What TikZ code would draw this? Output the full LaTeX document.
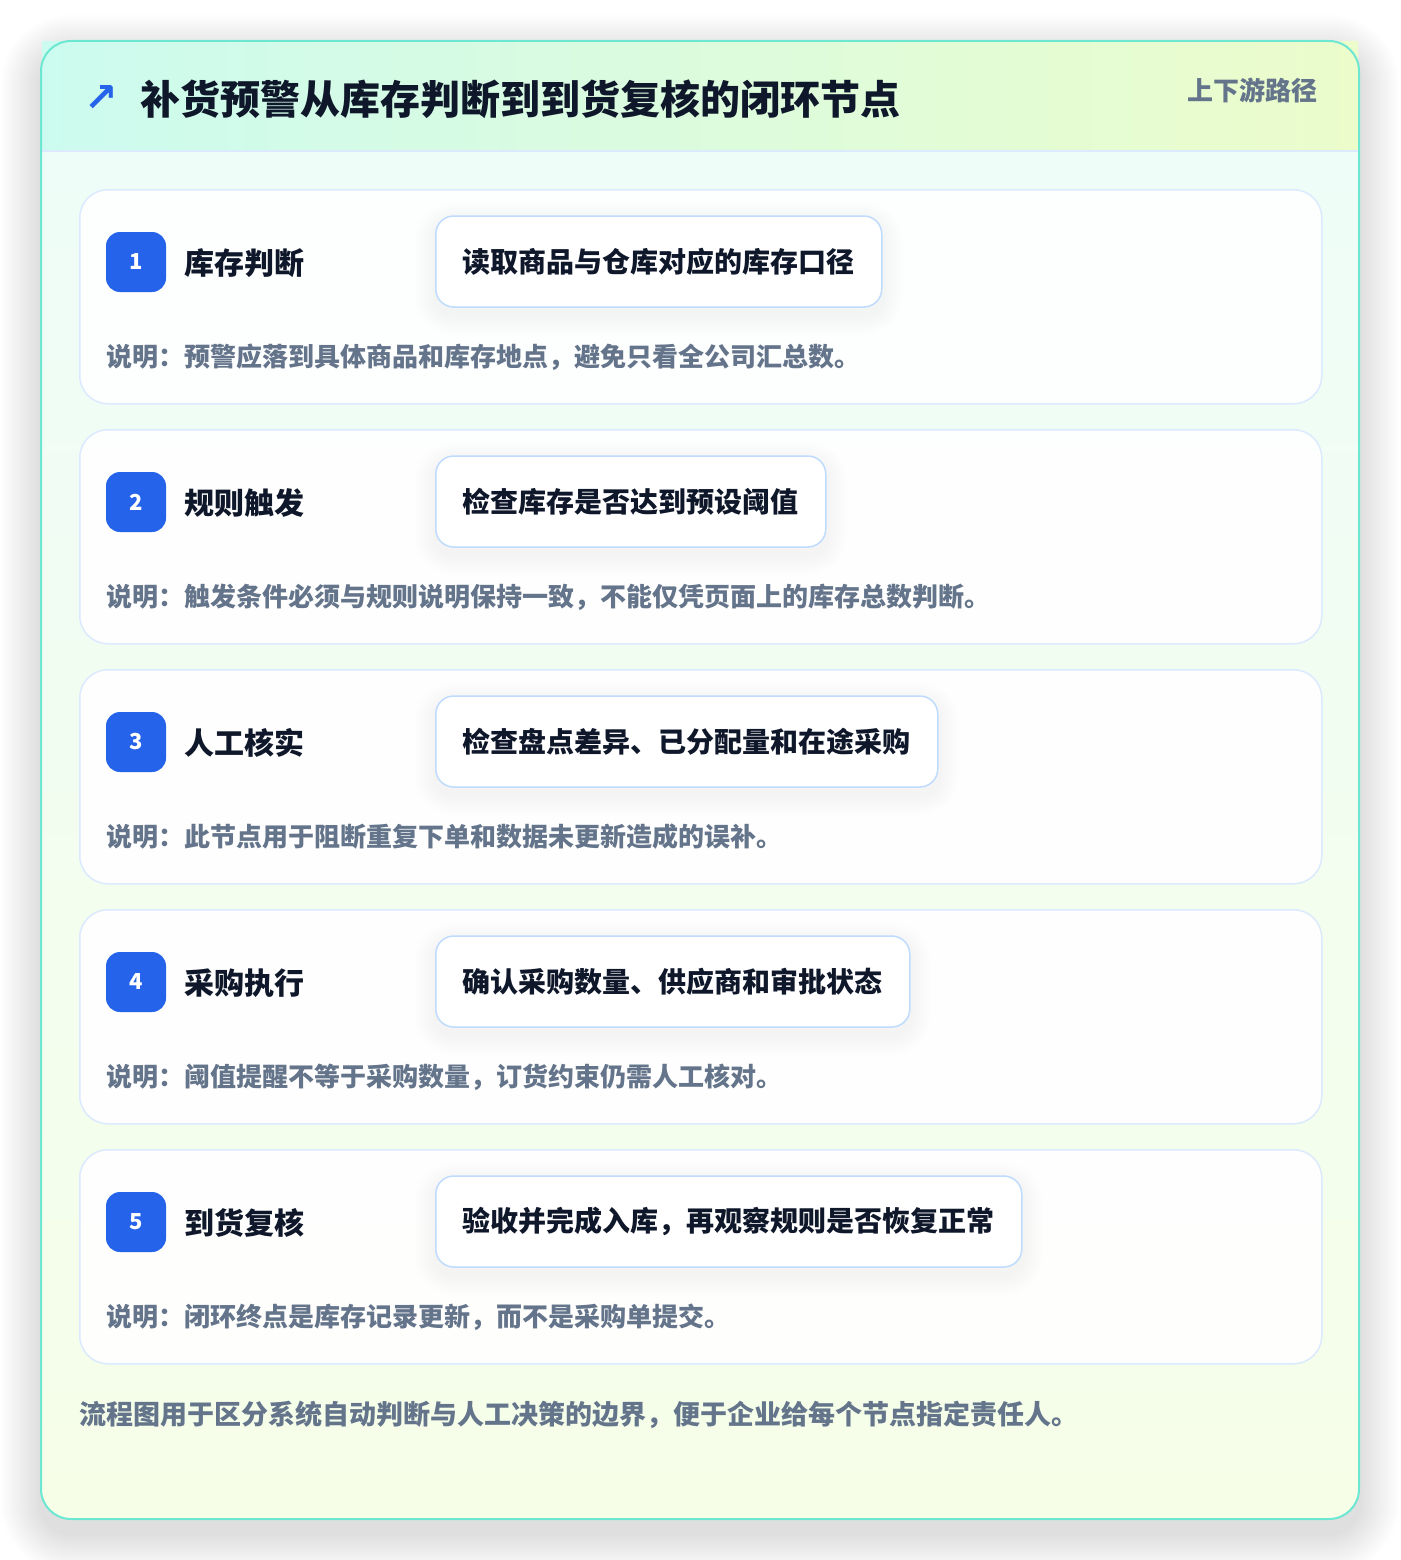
\documentclass[tikz,border=0pt]{standalone}
\usepackage{fontspec}
\setmainfont{Noto Sans CJK SC}
\newfontfamily\symfont{DejaVu Sans}
\definecolor{titlec}{HTML}{0F172A}
\definecolor{greyc}{HTML}{64748B}
\definecolor{bluec}{HTML}{2563EB}
\definecolor{cardb}{HTML}{DBEAFE}
\definecolor{boxb}{HTML}{BFDBFE}
\definecolor{tealb}{HTML}{6EE7D2}
\definecolor{hdl}{HTML}{CCFBEF}
\definecolor{hdr}{HTML}{ECFCCB}
\definecolor{bgt}{HTML}{EFFDF8}
\definecolor{bgb}{HTML}{F6FEE8}
\newcommand{\fsz}[1]{\fontsize{#1pt}{#1pt}\selectfont}
\pgfdeclarelayer{bglayer}
\pgfdeclarelayer{shadowlayer}
\pgfsetlayers{bglayer,shadowlayer,main}
\newcommand{\boxshadow}[1]{%
  \begin{pgfonlayer}{shadowlayer}
  \foreach \k in {1,...,10}{
    \fill[black, opacity=0.005, rounded corners=18pt+\k*2pt]
      ([xshift=-\k*2pt, yshift=-\k*2pt-7pt]#1.south west) rectangle
      ([xshift=\k*2pt, yshift=\k*2pt-7pt]#1.north east);
  }
  \end{pgfonlayer}}
\begin{document}
\begin{tikzpicture}[x=1pt,y=-1pt,
  card/.style={draw=cardb, line width=1.5pt, fill=white, fill opacity=0.9,
    rounded corners=28pt, minimum width=1242pt, minimum height=214pt, inner sep=0pt, anchor=north west},
  badge/.style={fill=bluec, rounded corners=14pt, minimum size=60pt, inner sep=0pt,
    text=white, font=\fsz{22}\bfseries},
  stepname/.style={anchor=west, inner sep=0pt, text=titlec, font=\fsz{30}\bfseries},
  ibox/.style={anchor=west, draw=boxb, line width=1.5pt, fill=white, rounded corners=18pt,
    minimum height=91pt, inner xsep=27pt, inner ysep=0pt, text=titlec, font=\fsz{28}\bfseries},
  desc/.style={anchor=west, inner sep=0pt, text=greyc, font=\fsz{26}\bfseries},
]
\useasboundingbox (0,0) rectangle (1400,1560);
\begin{pgfonlayer}{bglayer}
\fill[white] (0,0) rectangle (1400,1560);
% outer card soft shadow
\foreach \k in {1,...,16}{
  \fill[black, opacity=0.0065, rounded corners=30pt+\k*2.5pt]
    (41-\k*2.5, 41-\k*2.5+14) rectangle (1359+\k*2.5, 1519+\k*2.5+14);
}
\fill[bgt, rounded corners=30pt] (41,41) rectangle (1359,1519);
\shade[top color=bgt, bottom color=bgb, rounded corners=30pt] (41,151) rectangle (1359,1519);
% header band
\shade[left color=hdl, right color=hdr] (42,42) rectangle (1358,151);
\draw[cardb, line width=1.5pt] (42,151) -- (1358,151);
\draw[tealb, line width=2pt, rounded corners=30pt] (41,41) rectangle (1359,1519);
% cards
\node[card] (c1) at (79,189) {};
\node[card] (c2) at (79,429) {};
\node[card] (c3) at (79,669) {};
\node[card] (c4) at (79,909) {};
\node[card] (c5) at (79,1149) {};
\end{pgfonlayer}
% header texts
\node[inner sep=0pt, text=bluec, font=\symfont\fsz{40}\bfseries] (icon) at (101,99) {↗};
\node[anchor=west, inner sep=0pt, text=titlec, font=\fsz{40}\bfseries] (title) at (140,99) {补货预警从库存判断到到货复核的闭环节点};
\node[anchor=east, inner sep=0pt, text=greyc, font=\fsz{26}\bfseries] (tag) at (1318,90) {上下游路径};
% card 1
\node[badge] (b1) at (136,262) {1};
\node[stepname] (n1) at (184,263) {库存判断};
\node[ibox] (x1) at (435,261.5) {读取商品与仓库对应的库存口径};
\boxshadow{x1}
\node[desc] (d1) at (106,357) {说明：预警应落到具体商品和库存地点，避免只看全公司汇总数。};
% card 2
\node[badge] (b2) at (136,502) {2};
\node[stepname] (n2) at (184,503) {规则触发};
\node[ibox] (x2) at (435,501.5) {检查库存是否达到预设阈值};
\boxshadow{x2}
\node[desc] (d2) at (106,597) {说明：触发条件必须与规则说明保持一致，不能仅凭页面上的库存总数判断。};
% card 3
\node[badge] (b3) at (136,742) {3};
\node[stepname] (n3) at (184,743) {人工核实};
\node[ibox] (x3) at (435,741.5) {检查盘点差异、已分配量和在途采购};
\boxshadow{x3}
\node[desc] (d3) at (106,837) {说明：此节点用于阻断重复下单和数据未更新造成的误补。};
% card 4
\node[badge] (b4) at (136,982) {4};
\node[stepname] (n4) at (184,983) {采购执行};
\node[ibox] (x4) at (435,981.5) {确认采购数量、供应商和审批状态};
\boxshadow{x4}
\node[desc] (d4) at (106,1077) {说明：阈值提醒不等于采购数量，订货约束仍需人工核对。};
% card 5
\node[badge] (b5) at (136,1222) {5};
\node[stepname] (n5) at (184,1223) {到货复核};
\node[ibox] (x5) at (435,1221.5) {验收并完成入库，再观察规则是否恢复正常};
\boxshadow{x5}
\node[desc] (d5) at (106,1317) {说明：闭环终点是库存记录更新，而不是采购单提交。};
% footer
\node[anchor=west, inner sep=0pt, text=greyc, font=\fsz{27}\bfseries] (foot) at (79,1415) {流程图用于区分系统自动判断与人工决策的边界，便于企业给每个节点指定责任人。};
\end{tikzpicture}
\end{document}
